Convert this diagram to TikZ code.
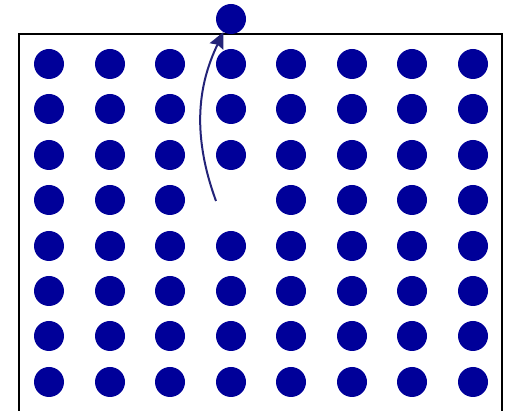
\documentclass[tikz,border=0pt]{standalone}
\usetikzlibrary{arrows.meta}
\definecolor{dotblue}{RGB}{0,0,153}
\definecolor{arrowblue}{RGB}{35,35,120}
\begin{document}
\begin{tikzpicture}[x=1pt,y=1pt,
  dot/.style={circle,fill=dotblue,inner sep=0pt,outer sep=0pt,minimum size=30pt},
  frame/.style={draw=black,line width=1.6pt},
  mover/.style={draw=arrowblue,line width=2pt,-{Stealth[length=16pt,width=15pt,inset=2pt,fill=arrowblue]}}]
\useasboundingbox (0,0) rectangle (505,411);
\draw[frame] (19,-19) -- (19,377) -- (502,377) -- (502,-19);
\foreach \i/\x in {1/49,2/110,3/170,4/231,5/291,6/352,7/412,8/473}{
  \foreach \j/\y in {1/347,2/302,3/256,4/211,5/165,6/120,7/75,8/29}{
    \ifnum\i=4 \ifnum\j=4 \else \node[dot] (d\i\j) at (\x,\y) {};\fi
    \else \node[dot] (d\i\j) at (\x,\y) {};\fi
  }
}
\node[dot] (top) at (231,392) {};
\coordinate (start) at (216,210);
\draw[mover] (start) .. controls (190,281) and (200,330) .. (top.240);
\end{tikzpicture}
\end{document}
